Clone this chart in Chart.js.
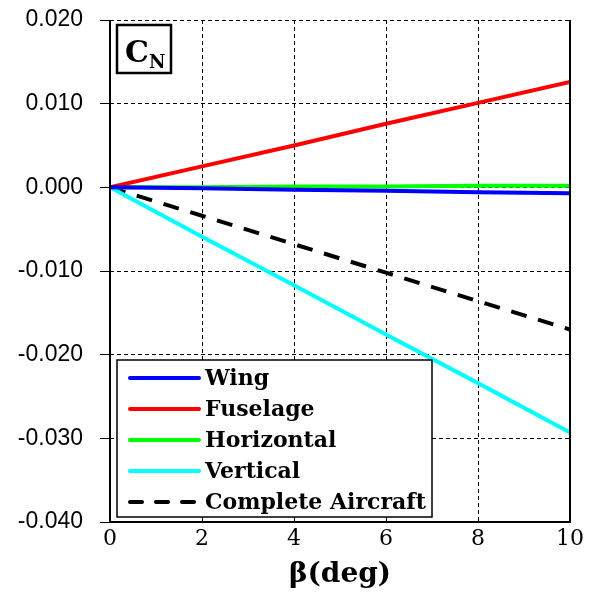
<!DOCTYPE html>
<html>
<head>
<meta charset="utf-8">
<script src="https://cdn.jsdelivr.net/npm/chart.js@4"></script>
<style>
  html, body { margin: 0; padding: 0; background: #fff; }
  #wrap { width: 593px; height: 608px; }
</style>
</head>
<body>
<div id="wrap"><canvas id="c" width="593" height="608"></canvas></div>
<script>
// sideslip angle (deg) and yawing moment coefficient per component
const beta = [0, 2, 4, 6, 8, 10];
const wing = [0, -0.0001, -0.0003, -0.0004, -0.0006, -0.0007];
const fuselage = [0, 0.0025, 0.0050, 0.0076, 0.0101, 0.0126];
const horizontal = [0, 0.0000, 0.0001, 0.0001, 0.0002, 0.0002];
const vertical = [0, -0.0059, -0.0117, -0.0176, -0.0234, -0.0293];
const complete = [0, -0.0034, -0.0068, -0.0102, -0.0136, -0.0170];
const seriesNames = ['Wing', 'Fuselage', 'Horizontal', 'Vertical', 'Complete Aircraft'];
const yTicks = [-0.040, -0.030, -0.020, -0.010, 0.000, 0.010, 0.020];
const xTicks = [0, 2, 4, 6, 8, 10];

const SERIF = '"DejaVu Serif", "Liberation Serif", serif';
const pts = arr => arr.map((v, i) => ({ x: beta[i], y: v }));

const mk = (label, data, color, dash) => ({
  label, data: pts(data), borderColor: color, backgroundColor: color,
  borderWidth: 4, borderDash: dash || [], pointRadius: 0, tension: 0, fill: false,
});

// solid frame on left, right and bottom of plot
const framePlugin = {
  id: 'frame',
  afterDatasetsDraw(chart) {
    const { ctx, chartArea: a } = chart;
    ctx.save();
    ctx.strokeStyle = '#000';
    ctx.lineWidth = 2;
    ctx.beginPath();
    ctx.moveTo(a.left, a.top);
    ctx.lineTo(a.left, a.bottom);
    ctx.lineTo(a.right, a.bottom);
    ctx.lineTo(a.right, a.top);
    ctx.stroke();
    ctx.restore();
  }
};

// C_N label box and the legend box inside the plot
const boxPlugin = {
  id: 'boxes',
  afterDraw(chart) {
    const { ctx, chartArea: a } = chart;
    ctx.save();
    // C_N
    ctx.fillStyle = '#fff';
    ctx.strokeStyle = '#000';
    ctx.lineWidth = 2.5;
    ctx.fillRect(a.left + 7, a.top + 5, 54, 48);
    ctx.strokeRect(a.left + 7, a.top + 5, 54, 48);
    ctx.fillStyle = '#000';
    ctx.textBaseline = 'alphabetic';
    ctx.font = 'bold 30px ' + SERIF;
    ctx.fillText('C', a.left + 15, a.top + 42);
    const cw = ctx.measureText('C').width;
    ctx.font = 'bold 18px ' + SERIF;
    ctx.fillText('N', a.left + 15 + cw, a.top + 48);

    // legend
    const lx = a.left + 7, ly = a.bottom - 162, lw = 315, lh = 157;
    ctx.fillStyle = '#fff';
    ctx.fillRect(lx, ly, lw, lh);
    ctx.strokeStyle = '#000';
    ctx.lineWidth = 1.5;
    ctx.strokeRect(lx, ly, lw, lh);
    ctx.font = 'bold 22px ' + SERIF;
    ctx.textBaseline = 'middle';
    chart.data.datasets.forEach((ds, i) => {
      const y = ly + 18 + i * 31;
      ctx.strokeStyle = ds.borderColor;
      ctx.lineWidth = 4;
      ctx.lineCap = 'round';
      ctx.setLineDash(ds.borderDash.length ? [12, 14] : []);
      ctx.beginPath();
      ctx.moveTo(lx + 13, y);
      ctx.lineTo(lx + 82, y);
      ctx.stroke();
      ctx.setLineDash([]);
      ctx.fillStyle = '#000';
      ctx.fillText(ds.label, lx + 88, y + 1);
    });
    ctx.restore();
  }
};

new Chart(document.getElementById('c'), {
  type: 'line',
  data: {
    datasets: [
      mk(seriesNames[0], wing, '#0000ff'),
      mk(seriesNames[1], fuselage, '#ff0000'),
      mk(seriesNames[2], horizontal, '#00ff00'),
      mk(seriesNames[3], vertical, '#00ffff'),
      mk(seriesNames[4], complete, '#000000', [16, 12]),
    ]
  },
  options: {
    responsive: false,
    animation: false,
    layout: { padding: { top: 20, right: 23, left: 0, bottom: 0 } },
    plugins: { legend: { display: false }, tooltip: { enabled: false } },
    scales: {
      x: {
        type: 'linear', min: 0, max: 10,
        afterBuildTicks: s => { s.ticks = xTicks.map(v => ({ value: v })); },
        afterFit: s => { s.height = 86; },
        grid: { color: '#000', lineWidth: 1, tickLength: 0, drawTicks: false },
        border: { display: false, dash: [4, 3] },
        ticks: { color: '#000', padding: 4, maxRotation: 0, font: { family: SERIF, size: 22 } },
        title: {
          display: true, text: 'β(deg)', color: '#000', padding: { top: 0, bottom: 16 },
          font: { family: SERIF, size: 28, weight: 'bold' }
        }
      },
      y: {
        min: -0.04, max: 0.02,
        afterBuildTicks: s => { s.ticks = yTicks.map(v => ({ value: v })); },
        afterFit: s => { s.width = 110; s.paddingTop = 0; s.paddingBottom = 0; },
        grid: { color: '#000', lineWidth: 1, tickLength: 10 },
        border: { display: false, dash: [4, 3] },
        ticks: {
          color: '#000', padding: 17,
          font: { family: '"Liberation Sans", Arial, sans-serif', size: 23 },
          callback: v => v.toFixed(3)
        }
      }
    }
  },
  plugins: [framePlugin, boxPlugin]
});
</script>
</body>
</html>
